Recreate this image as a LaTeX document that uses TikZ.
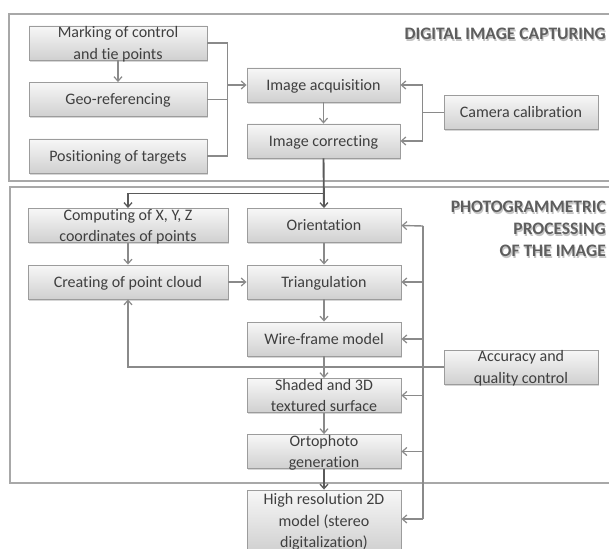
\documentclass[tikz,border=0pt]{standalone}
\usepackage{fontspec}
\setmainfont{Carlito}[Ligatures=NoCommon]
\usetikzlibrary{arrows.meta,shadows,calc}

\definecolor{boxedge}{HTML}{9C9C9C}
\definecolor{boxtop}{HTML}{F7F7F7}
\definecolor{boxbot}{HTML}{D0D0D0}
\definecolor{txt}{HTML}{3F3F3F}
\definecolor{wire}{HTML}{8A8A8A}
\definecolor{darkwire}{HTML}{5A5A5A}
\definecolor{frame}{HTML}{A8A8A8}
\definecolor{heading}{HTML}{5E5E5E}
\definecolor{headshadow}{HTML}{C4C4C4}

\tikzset{
  procbox/.style={draw=boxedge, line width=0.9pt, top color=boxtop, bottom color=boxbot,
    drop shadow={shadow xshift=1.4pt, shadow yshift=-1.6pt, fill=black!35, opacity=0.45},
    text=txt, font=\fontsize{16}{21.5}\selectfont, align=center,
    inner xsep=2pt, inner ysep=0pt, text height=10.6pt, text depth=0pt, minimum height=34pt},
  twoline/.style={text height=32.1pt},
  threeline/.style={text height=53.6pt},
  wline/.style={draw=wire, line width=1.4pt},
  warr/.style={wline, -{Straight Barb[length=4.5pt,width=8pt,line width=1.2pt]}},
  darr/.style={draw=darkwire, line width=1.9pt, -{Straight Barb[length=4.5pt,width=8pt,line width=1.3pt]}},
  stagebox/.style={draw=frame, line width=1.5pt},
  headtext/.style={font=\fontsize{17.5}{22}\selectfont\bfseries, align=right, text=heading, inner sep=0pt},
  headshade/.style={headtext, text=headshadow},
}

\begin{document}
\begin{tikzpicture}[x=1pt, y=-1pt]
\useasboundingbox (0,0) rectangle (609,548);
\clip (0,0) rectangle (609,548);
\fill[white] (0,0) rectangle (609,548);

% the two stages
\draw[stagebox] (630,14) -- (9,14) -- (9,181) -- (630,181);
\draw[stagebox] (630,187) -- (10,187) -- (10,483) -- (630,483);

% stage headings
\node[headshade, anchor=east] (capsh) at (607,35.5) {DIGITAL IMAGE CAPTURING};
\node[headtext, anchor=east] (cap) at (606,33.5) {DIGITAL IMAGE CAPTURING};
\node[headshade, anchor=east] (procsh) at (607,231) {PHOTOGRAMMETRIC\\PROCESSING\\OF THE IMAGE};
\node[headtext, anchor=east] (proc) at (606,229) {PHOTOGRAMMETRIC\\PROCESSING\\OF THE IMAGE};

% image capturing
\node[procbox, twoline, minimum width=178pt] (mark) at (118,43) {Marking of control\\and tie points};
\node[procbox, minimum width=178pt] (geo) at (118,99.5) {Geo-referencing};
\node[procbox, minimum width=178pt] (pos) at (118,156) {Positioning of targets};
\node[procbox, minimum width=153pt] (acq) at (323.5,85) {Image acquisition};
\node[procbox, minimum width=153pt] (cor) at (323.5,141) {Image correcting};
\node[procbox, minimum width=154pt] (cam) at (521,112.5) {Camera calibration};

% photogrammetric processing
\node[procbox, twoline, minimum width=200pt] (comp) at (128,225.5) {Computing of X, Y, Z\\coordinates of points};
\node[procbox, minimum width=200pt] (cloud) at (128,282) {Creating of point cloud};
\node[procbox, minimum width=154pt] (orient) at (324,225.5) {Orientation};
\node[procbox, minimum width=154pt] (tri) at (324,282) {Triangulation};
\node[procbox, minimum width=154pt] (wire) at (324,339) {Wire-frame model};
\node[procbox, twoline, minimum width=154pt] (shade) at (324,395.5) {Shaded and 3D\\textured surface};
\node[procbox, twoline, minimum width=154pt] (ortho) at (324,451.5) {Ortophoto\\generation};
\node[procbox, threeline, minimum width=154pt, minimum height=62pt] (hires) at (324,521) {High resolution 2D\\model (stereo\\digitalization)};
\node[procbox, twoline, minimum width=154pt] (acc) at (521,367) {Accuracy and\\quality control};

% connectors: capturing
\draw[warr] (mark.south) -- (geo.north);
\coordinate (jl) at ($(mark.east)+(20,0)$);
\draw[wline] (mark.east) -- (jl) |- (pos.east);
\draw[wline] (geo.east) -- (geo.east -| jl);
\draw[warr] (jl |- acq.west) -- (acq.west);
\draw[warr] (acq.south) -- (cor.north);
\coordinate (jr) at ($(cam.west)+(-21,0)$);
\draw[wline] (cam.west) -- (jr);
\draw[warr] (jr) |- (acq.east);
\draw[warr] (jr) |- (cor.east);

% connectors: into processing
\coordinate (split) at ($(cor.south)+(0,35)$);
\draw[darr] (cor.south) -- (orient.north);
\draw[darr] (split) -| (comp.north);

% connectors: processing
\draw[warr] (comp.south) -- (cloud.north);
\draw[warr] (cloud.east) -- (tri.west);
\draw[warr] (orient.south) -- (tri.north);
\draw[warr] (tri.south) -- (wire.north);
\draw[warr] (wire.south) -- (shade.north);
\draw[warr] (shade.south) -- (ortho.north);
\draw[darr] (ortho.south) -- (hires.north);

% quality control feedback
\coordinate (qbus) at (423,226);
\coordinate (qend) at (423,519);
\draw[wline] (qbus) -- (qend);
\draw[warr] (qbus) -- (orient.east);
\draw[warr] (qbus |- tri.east) -- (tri.east);
\draw[warr] (qbus |- wire.east) -- (wire.east);
\draw[warr] (qbus |- shade.east) -- (shade.east);
\draw[warr] (qbus |- ortho.east) -- (ortho.east);
\draw[warr] (qend) -- (qend -| hires.east);
\draw[warr] (acc.west) -| (cloud.south);
\end{tikzpicture}
\end{document}
